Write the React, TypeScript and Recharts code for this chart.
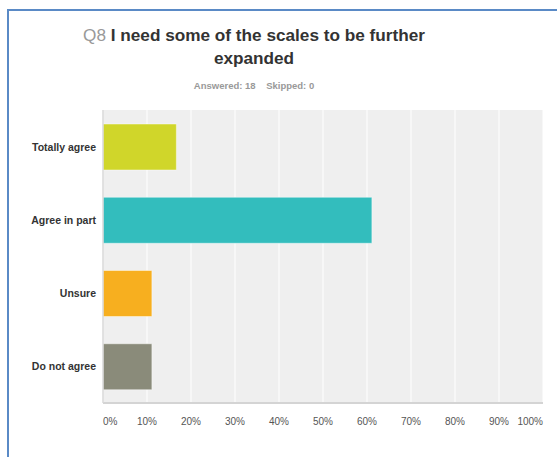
import React from "react";
import { BarChart, Bar, XAxis, YAxis, CartesianGrid, Cell } from "recharts";

const categories = ["Totally agree", "Agree in part", "Unsure", "Do not agree"];
const percentValues = [16.67, 61.11, 11.11, 11.11];
const barColors = ["#d0d62a", "#33bdbd", "#f7af1f", "#8a8b7a"];
const xTicks = [0, 10, 20, 30, 40, 50, 60, 70, 80, 90, 100];

const data = categories.map((name, i) => ({ name, value: percentValues[i] }));

const FONT = "'Liberation Sans', Arial, sans-serif";

const XTick = (props: any) => {
  const { x, y, payload } = props;
  const v = payload.value;
  const anchor = v === 0 ? "start" : v === 100 ? "end" : "middle";
  return (
    <text x={x} y={y} dy={22} textAnchor={anchor} fontSize={10} fill="#555" fontFamily={FONT}>
      {v}%
    </text>
  );
};

const YTick = (props: any) => {
  const { x, y, payload } = props;
  return (
    <text x={x} y={y} dy={4} textAnchor="end" fontSize={10.5} fontWeight="bold" fill="#333" fontFamily={FONT}>
      {payload.value}
    </text>
  );
};

export default function App() {
  return (
    <div style={{ position: "relative", width: 557, height: 457, background: "#fff", overflow: "hidden" }}>
      <style>{`body{margin:0}`}</style>
      <div
        style={{
          position: "absolute",
          left: 7,
          top: 9,
          width: 600,
          height: 500,
          borderLeft: "2px solid #5a8ac6",
          borderTop: "2px solid #5a8ac6",
        }}
      />
      <div
        style={{
          position: "absolute",
          left: 0,
          top: 24,
          width: 508,
          textAlign: "center",
          fontFamily: FONT,
          fontSize: 17.2,
          fontWeight: "bold",
          color: "#333",
          lineHeight: "22.5px",
        }}
      >
        <span style={{ color: "#999", fontWeight: "normal" }}>Q8</span> I need some of the scales to be further
        <br />
        expanded
      </div>
      <div
        style={{
          position: "absolute",
          left: 0,
          top: 80,
          width: 508,
          textAlign: "center",
          fontFamily: FONT,
          fontSize: 9.5,
          fontWeight: "bold",
          color: "#999",
          whiteSpace: "pre",
        }}
      >
        {"Answered: 18    Skipped: 0"}
      </div>
      <div style={{ position: "absolute", left: 0, top: 0 }}>
        <BarChart
          width={557}
          height={457}
          data={data}
          layout="vertical"
          margin={{ top: 110, right: 14, bottom: 24, left: 0 }}
          barSize={46}
        >
          <CartesianGrid horizontal={false} vertical={true} stroke="#ffffff" strokeWidth={1} fill="#efefef" />
          <XAxis
            type="number"
            domain={[0, 100]}
            ticks={xTicks}
            interval={0}
            height={30}
            tickLine={false}
            tickSize={0}
            tickMargin={0}
            axisLine={{ stroke: "#d4d4d4", strokeWidth: 2 }}
            tick={<XTick />}
          />
          <YAxis
            type="category"
            dataKey="name"
            width={103}
            tickLine={false}
            tickSize={0}
            tickMargin={7}
            axisLine={{ stroke: "#d8d8d8", strokeWidth: 1.5 }}
            tick={<YTick />}
          />
          <Bar dataKey="value" isAnimationActive={false} stroke="rgba(255,255,255,0.45)" strokeWidth={1}>
            {data.map((d, i) => (
              <Cell key={d.name} fill={barColors[i]} />
            ))}
          </Bar>
        </BarChart>
      </div>
    </div>
  );
}
